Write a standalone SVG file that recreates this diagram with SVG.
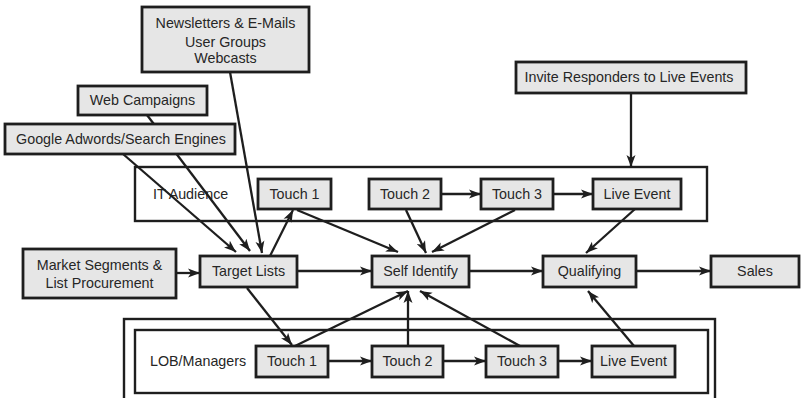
<svg xmlns="http://www.w3.org/2000/svg" width="801" height="398" viewBox="0 0 801 398">
<defs>
<marker id="ah" markerUnits="userSpaceOnUse" markerWidth="13" markerHeight="10" refX="12" refY="5" orient="auto">
<path d="M0,0.5 L12,5 L0,9.5 L3,5 z" fill="#1e1e1e"/>
</marker>
<style>
.box{fill:#e6e6e6;stroke:#1e1e1e;stroke-width:2.8}
.cont{fill:none;stroke:#1e1e1e;stroke-width:2.4}
.t{font-family:"Liberation Sans",Arial,sans-serif;font-size:14.3px;fill:#262626;text-anchor:middle}
.l{font-family:"Liberation Sans",Arial,sans-serif;font-size:14.3px;fill:#262626}
.c{fill:none;stroke:#1e1e1e;stroke-width:2.3;marker-end:url(#ah)}
</style>
</defs>
<rect width="801" height="398" fill="#fff"/>

<g id="it-audience">
<rect class="cont" x="135" y="167" width="572" height="54"/>
<text class="l" x="153" y="199">IT Audience</text>
</g>
<g id="lob-managers">
<rect class="cont" x="124" y="319" width="591" height="100"/>
<rect class="cont" x="135" y="330" width="573" height="63"/>
<text class="l" x="150" y="366">LOB/Managers</text>
</g>

<g id="connectors">
<line class="c" x1="230" y1="72" x2="262" y2="253"/>
<line class="c" x1="147" y1="115" x2="250" y2="251"/>
<line class="c" x1="123" y1="154" x2="236" y2="252"/>
<line class="c" x1="176" y1="273" x2="200" y2="273"/>
<line class="c" x1="270" y1="256" x2="293" y2="210"/>
<line class="c" x1="297" y1="271" x2="372" y2="271"/>
<line class="c" x1="297" y1="210" x2="398" y2="252"/>
<line class="c" x1="406" y1="210" x2="426" y2="253"/>
<line class="c" x1="515" y1="210" x2="432" y2="252"/>
<line class="c" x1="441" y1="194" x2="481" y2="194"/>
<line class="c" x1="553" y1="194" x2="593" y2="194"/>
<line class="c" x1="635" y1="209" x2="586" y2="253"/>
<line class="c" x1="631" y1="93" x2="631" y2="167"/>
<line class="c" x1="469" y1="271" x2="543" y2="271"/>
<line class="c" x1="636" y1="271" x2="711" y2="271"/>
<line class="c" x1="247" y1="288" x2="292" y2="345"/>
<line class="c" x1="295" y1="346" x2="408" y2="291"/>
<line class="c" x1="408" y1="346" x2="408" y2="291"/>
<line class="c" x1="520" y1="346" x2="420" y2="291"/>
<line class="c" x1="634" y1="346" x2="588" y2="291"/>
<line class="c" x1="328" y1="361" x2="372" y2="361"/>
<line class="c" x1="443" y1="361" x2="486" y2="361"/>
<line class="c" x1="558" y1="361" x2="592" y2="361"/>
</g>

<g id="newsletters">
<rect class="box" x="142" y="7" width="167" height="65"/>
<text class="t" x="225.5" y="28">Newsletters &amp; E-Mails</text>
<text class="t" x="225.5" y="47">User Groups</text>
<text class="t" x="225.5" y="63">Webcasts</text>
</g>
<g id="web-campaigns">
<rect class="box" x="78" y="86" width="129" height="29"/>
<text class="t" x="142.5" y="105">Web Campaigns</text>
</g>
<g id="google">
<rect class="box" x="5" y="124" width="230" height="30"/>
<text class="t" x="121" y="144">Google Adwords/Search Engines</text>
</g>
<g id="invite">
<rect class="box" x="516" y="62" width="230" height="31"/>
<text class="t" x="629" y="82">Invite Responders to Live Events</text>
</g>
<g id="it-touch1">
<rect class="box" x="258" y="179" width="73" height="30"/>
<text class="t" x="294.5" y="199">Touch 1</text>
</g>
<g id="it-touch2">
<rect class="box" x="369" y="179" width="72" height="30"/>
<text class="t" x="405" y="199">Touch 2</text>
</g>
<g id="it-touch3">
<rect class="box" x="481" y="179" width="72" height="30"/>
<text class="t" x="517" y="199">Touch 3</text>
</g>
<g id="it-live">
<rect class="box" x="593" y="179" width="88" height="30"/>
<text class="t" x="637" y="199">Live Event</text>
</g>
<g id="market">
<rect class="box" x="23" y="249" width="153" height="49"/>
<text class="t" x="99.5" y="270">Market Segments &amp;</text>
<text class="t" x="99.5" y="288">List Procurement</text>
</g>
<g id="target-lists">
<rect class="box" x="200" y="256" width="97" height="31"/>
<text class="t" x="248.5" y="276">Target Lists</text>
</g>
<g id="self-identify">
<rect class="box" x="372" y="256" width="97" height="31"/>
<text class="t" x="420.5" y="276">Self Identify</text>
</g>
<g id="qualifying">
<rect class="box" x="543" y="256" width="93" height="31"/>
<text class="t" x="589.5" y="276">Qualifying</text>
</g>
<g id="sales">
<rect class="box" x="711" y="256" width="88" height="31"/>
<text class="t" x="755" y="276">Sales</text>
</g>
<g id="lob-touch1">
<rect class="box" x="256" y="346" width="72" height="31"/>
<text class="t" x="292" y="366">Touch 1</text>
</g>
<g id="lob-touch2">
<rect class="box" x="372" y="346" width="71" height="31"/>
<text class="t" x="407.5" y="366">Touch 2</text>
</g>
<g id="lob-touch3">
<rect class="box" x="486" y="346" width="72" height="31"/>
<text class="t" x="522" y="366">Touch 3</text>
</g>
<g id="lob-live">
<rect class="box" x="592" y="346" width="83" height="31"/>
<text class="t" x="633.5" y="366">Live Event</text>
</g>
</svg>
